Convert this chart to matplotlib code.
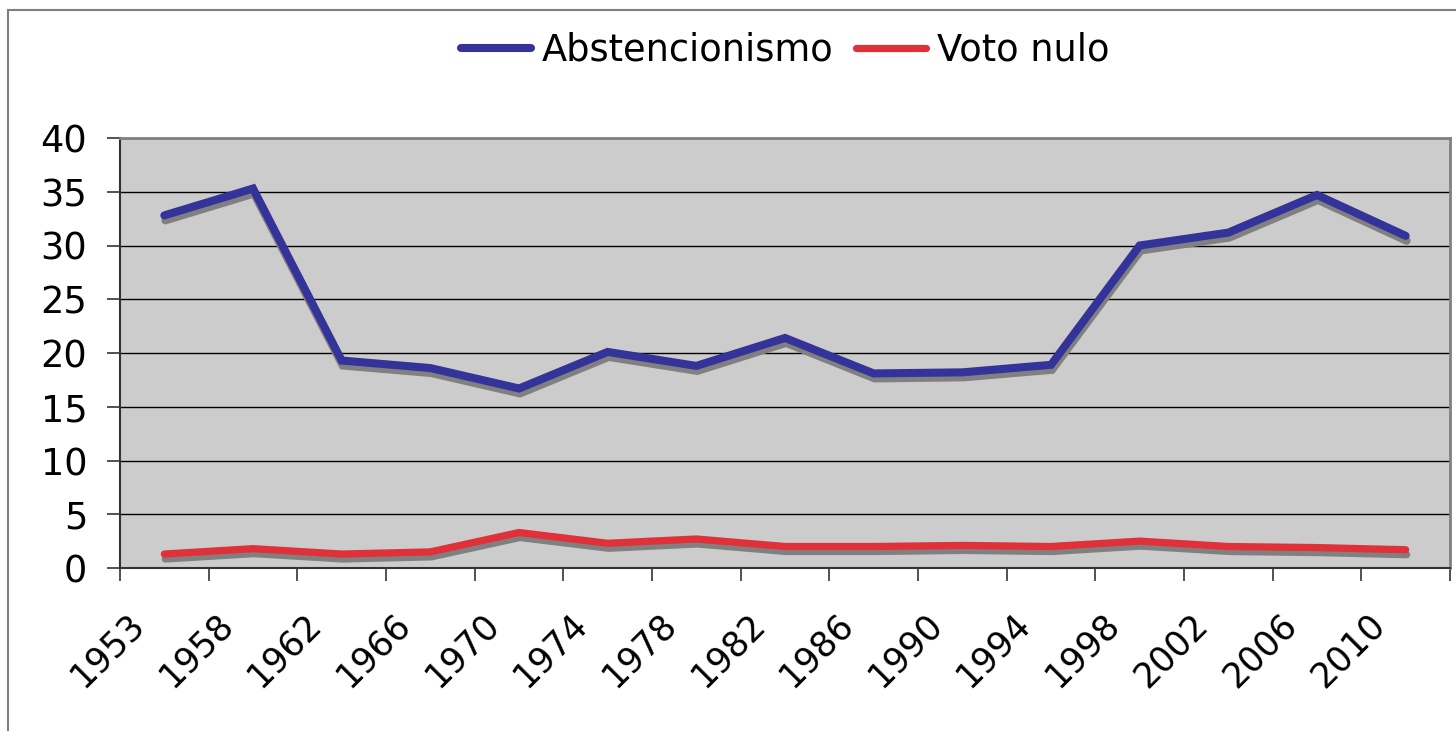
import matplotlib
matplotlib.use("Agg")
import matplotlib.pyplot as plt
import matplotlib.transforms as mtransforms
from matplotlib.patches import Rectangle

# Data
years = ['1953', '1958', '1962', '1966', '1970', '1974', '1978', '1982',
         '1986', '1990', '1994', '1998', '2002', '2006', '2010']
abstencionismo = [32.8, 35.3, 19.3, 18.6, 16.7, 20.1, 18.8, 21.4,
                  18.1, 18.2, 18.9, 30.0, 31.2, 34.7, 30.9]
voto_nulo = [1.3, 1.8, 1.3, 1.5, 3.3, 2.3, 2.7, 2.0,
             2.0, 2.1, 2.0, 2.5, 2.0, 1.9, 1.7]

plt.rcParams['font.family'] = ['DejaVu Sans']

W, H = 1456, 731
fig = plt.figure(figsize=(W / 100, H / 100), dpi=100)

# outer chart frame (cut off at right/bottom edge)
fig.patches.append(Rectangle((8 / W, -0.5), 2.0, 1.5 - 10 / H, transform=fig.transFigure,
                             fill=False, edgecolor='#7f7f7f', lw=1.5, zorder=0))

ax = fig.add_axes([120 / W, 1 - 568 / H, (1450 - 120) / W, (568 - 138) / H])
ax.set_facecolor('#cccccc')

x = list(range(len(years)))
shadow = ax.transData + mtransforms.ScaledTranslation(1 / 100, -5 / 100, fig.dpi_scale_trans)

ax.plot(x, abstencionismo, color='#808080', lw=5.8, transform=shadow,
        solid_capstyle='round', solid_joinstyle='miter', zorder=2)
ax.plot(x, voto_nulo, color='#808080', lw=5.2, transform=shadow,
        solid_capstyle='round', solid_joinstyle='miter', zorder=2)
ax.plot(x, abstencionismo, color='#333399', lw=5.8, label='Abstencionismo',
        solid_capstyle='round', solid_joinstyle='miter', zorder=3)
ax.plot(x, voto_nulo, color='#e0303a', lw=5.2, label='Voto nulo',
        solid_capstyle='round', solid_joinstyle='miter', zorder=3)

ax.set_xlim(-0.5, len(years) - 0.5)
ax.set_ylim(0, 40)
ax.set_yticks(range(0, 41, 5))
ax.yaxis.grid(True, color='black', lw=1.0)
ax.set_axisbelow(True)

ax.set_xticks(x)
ax.set_xticklabels(years, rotation=45, ha='right', va='top', rotation_mode='anchor')
ax.set_xticks([i - 0.5 for i in range(len(years) + 1)], minor=True)
ax.tick_params(axis='x', which='major', length=0, pad=28, labelsize=25)
ax.tick_params(axis='x', which='minor', length=9, width=1.2, color='#333333')
ax.tick_params(axis='y', length=9.5, width=1.2, color='#333333', pad=14, labelsize=26.5)

# nudge the rotated year labels left, like the original
shift = mtransforms.ScaledTranslation(-38 / 100, 0, fig.dpi_scale_trans)
for lbl in ax.get_xticklabels():
    lbl.set_transform(lbl.get_transform() + shift)

for side in ['top', 'right']:
    ax.spines[side].set_color('#808080')
    ax.spines[side].set_linewidth(2)
for side in ['left', 'bottom']:
    ax.spines[side].set_color('#333333')
    ax.spines[side].set_linewidth(1.5)

ax.legend(loc='center', bbox_to_anchor=(785 / W, 1 - 50 / H), bbox_transform=fig.transFigure,
          ncol=2, frameon=False, fontsize=26.5, handlelength=1.9, handletextpad=0.3,
          columnspacing=0.6)

fig.savefig('out.png', dpi=100)
